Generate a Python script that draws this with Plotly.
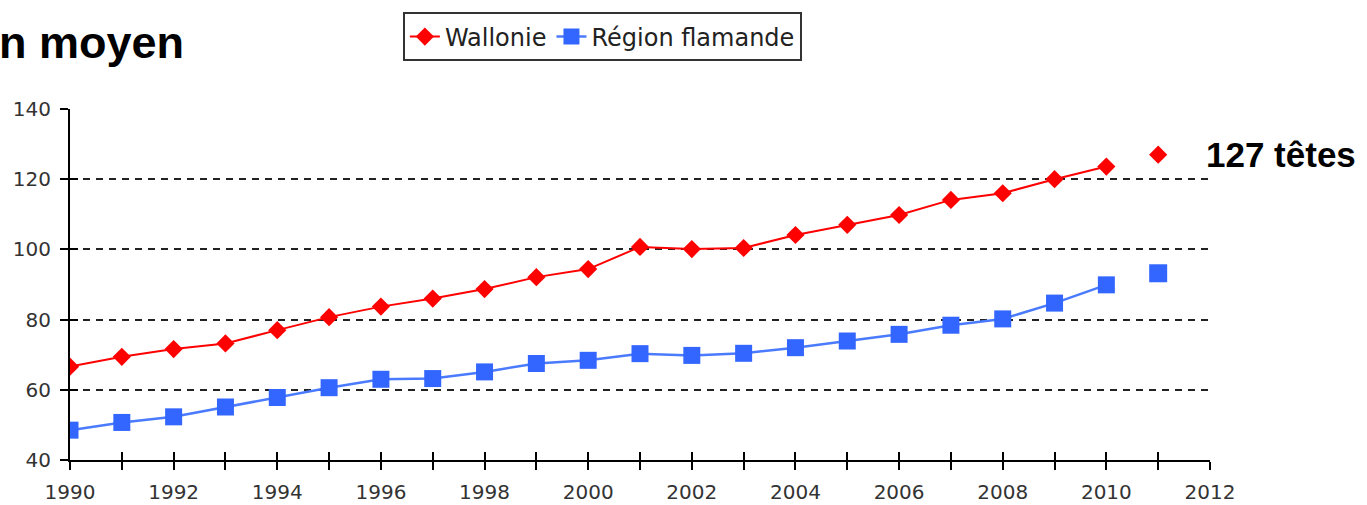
import plotly.graph_objects as go

# Années et effectifs moyens (têtes)
annees = list(range(1990, 2011))
wallonie = [66.6, 69.4, 71.6, 73.2, 77.0, 80.7, 83.7, 86.0, 88.7, 92.1, 94.4,
            100.7, 100.1, 100.4, 104.1, 107.0, 109.8, 114.1, 116.0, 120.0, 123.6]
flandre = [48.5, 50.7, 52.3, 55.1, 57.8, 60.6, 63.0, 63.2, 65.1, 67.5, 68.4,
           70.3, 69.8, 70.4, 72.0, 73.9, 75.8, 78.4, 80.2, 84.7, 89.9]

# point isolé 2011
annee_2011 = [2011]
wallonie_2011 = [127]
flandre_2011 = [93.2]

x_range = [1990, 2012]
y_range = [40, 140]

ROUGE = "#FF0000"
BLEU = "#3366FF"

fig = go.Figure()

fig.add_trace(go.Scatter(
    x=annees, y=wallonie, name="Wallonie", mode="lines+markers",
    line=dict(color=ROUGE, width=2),
    marker=dict(symbol="diamond", size=14, color=ROUGE),
))
fig.add_trace(go.Scatter(
    x=annees, y=flandre, name="Région flamande", mode="lines+markers",
    line=dict(color="#4A7BFF", width=2.5),
    marker=dict(symbol="square", size=17, color=BLEU),
))

# 2011 sans ligne, sur les axes superposés (pour les graduations intérieures)
fig.add_trace(go.Scatter(
    x=annee_2011, y=wallonie_2011, mode="markers", showlegend=False,
    marker=dict(symbol="diamond", size=14, color=ROUGE),
    xaxis="x2", yaxis="y2",
))
fig.add_trace(go.Scatter(
    x=annee_2011, y=flandre_2011, mode="markers", showlegend=False,
    marker=dict(symbol="square", size=18, color=BLEU),
    xaxis="x2", yaxis="y2",
))

tick_font = dict(family="DejaVu Sans", size=20, color="#333333")

fig.update_layout(
    width=1367, height=505,
    margin=dict(l=70, r=157, t=107, b=45),
    paper_bgcolor="white", plot_bgcolor="white",
    showlegend=True,
    legend=dict(
        orientation="h", x=0.292, y=1.275, xanchor="left", yanchor="top",
        font=dict(family="DejaVu Sans", size=24, color="#222222"),
        bordercolor="#333333", borderwidth=2, bgcolor="white",
    ),
    xaxis=dict(
        range=x_range, dtick=2, tick0=1990, automargin=False,
        showgrid=False, zeroline=False,
        showline=True, linecolor="black", linewidth=2,
        ticks="outside", ticklen=8, tickwidth=2, tickcolor="black",
        minor=dict(dtick=1, ticks="outside", ticklen=8, tickwidth=2, tickcolor="black"),
        tickfont=tick_font, ticklabelstandoff=5,
    ),
    yaxis=dict(
        range=y_range, dtick=20, automargin=False,
        showgrid=True, gridcolor="#222222", gridwidth=1.5, griddash="7px,6px",
        zeroline=False,
        showline=True, linecolor="black", linewidth=2,
        ticks="outside", ticklen=8, tickwidth=2, tickcolor="black",
        tickfont=tick_font, ticklabelstandoff=5,
    ),
    xaxis2=dict(
        range=x_range, overlaying="x", anchor="y2", dtick=1,
        showgrid=False, zeroline=False, showline=False, showticklabels=False,
        ticks="inside", ticklen=8, tickwidth=2, tickcolor="black",
    ),
    yaxis2=dict(
        range=y_range, overlaying="y", anchor="x2", dtick=20,
        showgrid=False, zeroline=False, showline=False, showticklabels=False,
        ticks="inside", ticklen=8, tickwidth=2, tickcolor="black",
    ),
)

fig.add_annotation(
    text="n moyen", xref="paper", yref="paper",
    x=-0.064, y=1.19, xanchor="left", yanchor="middle", showarrow=False,
    font=dict(family="Liberation Sans", size=45, color="black", weight="bold"),
)
fig.add_annotation(
    text=f"{wallonie_2011[0]} têtes", xref="x2", yref="y2",
    x=annee_2011[0], y=wallonie_2011[0], xanchor="left", yanchor="middle",
    xshift=46, showarrow=False,
    font=dict(family="Liberation Sans", size=35, color="black", weight="bold"),
)

# la page ajoute 8 px de marge au body : on la supprime
fig.write_html("out.html", config={"displayModeBar": False},
               post_script="document.body.style.margin='0';")
